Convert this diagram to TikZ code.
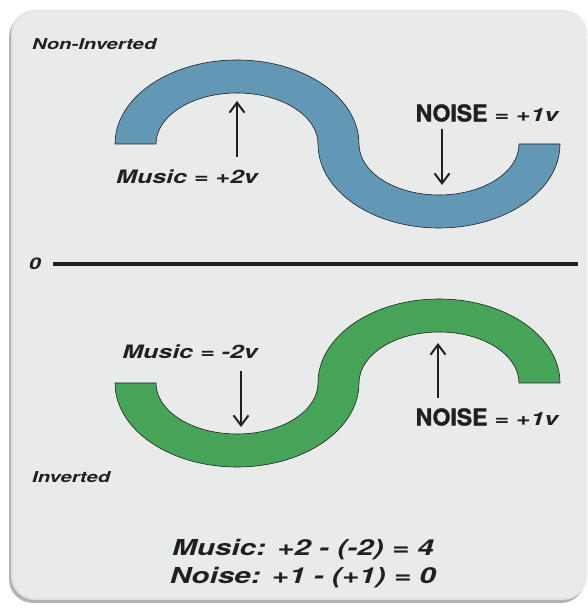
\documentclass[tikz,border=0pt]{standalone}
\usepackage{fontspec}
\usetikzlibrary{arrows.meta}
\newfontfamily\widesans[FakeStretch=1.35]{TeX Gyre Heros}
\newfontfamily\stampsans[BoldFeatures={FakeBold=1.6}]{TeX Gyre Heros}
\definecolor{upper}{HTML}{6297B5}
\definecolor{lower}{HTML}{45A458}
\definecolor{ink}{HTML}{231F20}
\definecolor{panel}{HTML}{E9EBEA}
\newcommand{\NOISE}{{\stampsans\bfseries\upshape\fontsize{23}{23}\selectfont NOISE}}

\begin{document}
\begin{tikzpicture}[x=1pt,y=1pt,
  lab/.style={font=\widesans\bfseries\itshape\fontsize{18.5}{20}\selectfont,text=ink,inner sep=0pt},
  side/.style={font=\widesans\bfseries\itshape\fontsize{15}{17}\selectfont,text=ink,inner sep=0pt,anchor=west},
  band/.style={draw=ink,line width=0.6pt},
  pointer/.style={ink,line width=2pt,-{Straight Barb[length=10pt,width=15pt,line width=2pt]}}]
\useasboundingbox (0,0) rectangle (588,608);
\fill[black!30,rounded corners=24pt] (9,5) rectangle (585,595);
\fill[black!12,rounded corners=24pt] (11,8) rectangle (587,598);
\fill[panel,rounded corners=22pt] (13,10) rectangle (587,597);

\node[side] (noninv) at (32,564) {Non-Inverted};
\node[side] (inv) at (32,131) {Inverted};

\path[band,fill=upper] (115,464) arc[start angle=180,end angle=0,x radius=122,y radius=84]
  arc[start angle=180,end angle=360,x radius=80,y radius=51] -- (560,464)
  arc[start angle=0,end angle=-180,x radius=121,y radius=84]
  arc[start angle=0,end angle=180,x radius=81,y radius=51] -- cycle;
\path[band,fill=lower] (115,225) arc[start angle=180,end angle=360,x radius=122,y radius=84]
  arc[start angle=180,end angle=0,x radius=80,y radius=51] -- (560,225)
  arc[start angle=0,end angle=180,x radius=121,y radius=84]
  arc[start angle=0,end angle=-180,x radius=81,y radius=51] -- cycle;

\node[lab,font=\widesans\bfseries\itshape\fontsize{16}{16}\selectfont] (zero) at (35,344) {0};
\coordinate (axisEnd) at (578,344);
\draw[ink,line width=4pt] ([xshift=12pt]zero.east) -- (axisEnd);

\node[lab] (musicUp) at (187,431) {Music = +2v};
\node[lab] (noiseUp) at (487,495) {\NOISE\ = +1v};
\node[lab] (musicDown) at (190,256) {Music = -2v};
\node[lab] (noiseDown) at (487,191) {\NOISE\ = +1v};

\coordinate (aFrom) at (237,451); \coordinate (aTo) at (237,507);
\coordinate (bFrom) at (442,479); \coordinate (bTo) at (442,423);
\coordinate (cFrom) at (241,237); \coordinate (cTo) at (241,181);
\coordinate (dFrom) at (438,210); \coordinate (dTo) at (438,265);
\draw[pointer] (aFrom) -- (aTo);
\draw[pointer] (bFrom) -- (bTo);
\draw[pointer] (cFrom) -- (cTo);
\draw[pointer] (dFrom) -- (dTo);

\node[lab,font=\widesans\bfseries\itshape\fontsize{22}{28}\selectfont,align=center] (sums) at (303,44)
  {Music: +2 - (-2) = 4\\Noise: +1 - (+1) = 0};
\end{tikzpicture}
\end{document}
